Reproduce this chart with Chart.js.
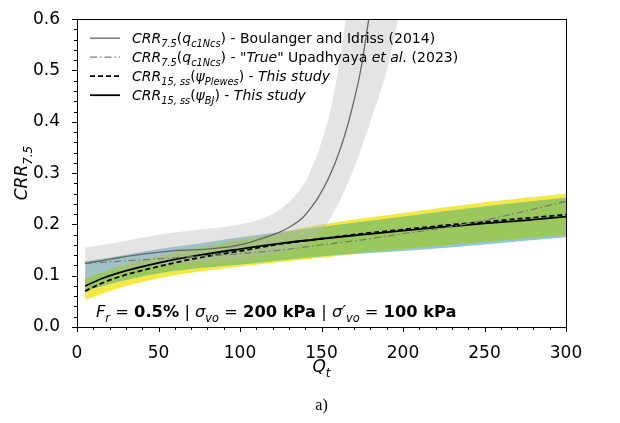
<!DOCTYPE html>
<html>
<head>
<meta charset="utf-8">
<script src="https://cdn.jsdelivr.net/npm/chart.js@4/dist/chart.umd.min.js"></script>
<style>
  html, body { margin: 0; padding: 0; background: #fff; }
  #wrap { width: 620px; height: 423px; position: relative; }
</style>
</head>
<body>
<div id="wrap"><canvas id="c"></canvas></div>
<script>
// Normalised cone resistance values used by the study curves
const qt = [5, 15, 25, 50, 75, 100, 125, 150, 175, 200, 225, 250, 275, 300];
// CRR15,ss from psi (Been & Jefferies) - this study
const crrBJ = [0.080, 0.094, 0.105, 0.125, 0.140, 0.152, 0.163, 0.172, 0.180, 0.188, 0.195, 0.202, 0.208, 0.215];
// CRR15,ss from psi (Plewes) - this study
const crrPlewes = [0.070, 0.085, 0.097, 0.118, 0.135, 0.148, 0.162, 0.172, 0.182, 0.190, 0.198, 0.205, 0.212, 0.219];
// "True" CRR7.5 after Upadhyaya et al. (2023)
const crrUpadhyaya = [0.124, 0.126, 0.128, 0.133, 0.138, 0.143, 0.150, 0.160, 0.170, 0.182, 0.193, 0.208, 0.226, 0.245];

// Boulanger and Idriss (2014) CRR7.5
const qtBI = [5, 20, 40, 60, 80, 95, 105, 115, 125, 130, 135, 139, 144, 149, 154, 159, 164, 169, 174, 179, 182];
const crrBI = [0.124, 0.132, 0.142, 0.149, 0.152, 0.157, 0.164, 0.174, 0.186, 0.194, 0.204, 0.215, 0.234, 0.258, 0.288, 0.325, 0.371, 0.429, 0.500, 0.600, 0.660];

// Uncertainty band around Boulanger and Idriss (2014)
const qtBIBand = [5, 25, 50, 75, 100, 115, 125, 135, 142, 150, 156, 161, 165, 170, 180, 190, 197, 205];
const biBandUpper = [0.155, 0.165, 0.180, 0.190, 0.200, 0.213, 0.230, 0.260, 0.295, 0.360, 0.430, 0.515, 0.600, 0.700, 0.900, 1.100, 1.250, 1.400];
const biBandLower = [0.100, 0.110, 0.120, 0.125, 0.130, 0.138, 0.145, 0.155, 0.166, 0.188, 0.215, 0.245, 0.272, 0.310, 0.400, 0.500, 0.600, 0.720];

// Scatter bands of this study
const qtBand = [5, 25, 50, 75, 100, 150, 200, 250, 300];
const plewesUpper = [0.128, 0.138, 0.152, 0.163, 0.175, 0.195, 0.215, 0.235, 0.252];
const plewesLower = [0.070, 0.088, 0.105, 0.115, 0.122, 0.138, 0.148, 0.161, 0.175];
const bjUpper = [0.095, 0.118, 0.138, 0.155, 0.170, 0.200, 0.222, 0.243, 0.260];
const bjLower = [0.053, 0.075, 0.095, 0.108, 0.118, 0.135, 0.152, 0.166, 0.180];

// Axis ticks
const xTicks = [0, 50, 100, 150, 200, 250, 300];
const yTicks = [0.0, 0.1, 0.2, 0.3, 0.4, 0.5, 0.6];

const FONT = '"DejaVu Sans", sans-serif';

const pts = (xs, ys) => xs.map((x, i) => ({ x: x, y: ys[i] }));
const overlapUpper = qtBand.map((_, i) => Math.min(plewesUpper[i], bjUpper[i]));
const overlapLower = qtBand.map((_, i) => Math.max(plewesLower[i], bjLower[i]));

function edge(data, fill, color) {
  return {
    data: data, fill: fill, backgroundColor: color, borderWidth: 0,
    pointRadius: 0, cubicInterpolationMode: 'monotone'
  };
}
function line(data, color, width, dash) {
  return {
    data: data, borderColor: color, borderWidth: width, borderDash: dash,
    fill: false, pointRadius: 0, cubicInterpolationMode: 'monotone'
  };
}

const datasets = [
  line(pts(qtBI, crrBI), '#666', 1.3, []),
  line(pts(qt, crrUpadhyaya), '#7a7a7a', 1.3, [7, 3, 1.5, 3]),
  line(pts(qt, crrPlewes), '#000', 1.8, [5, 3]),
  line(pts(qt, crrBJ), '#000', 1.8, []),
  edge(pts(qtBIBand, biBandUpper), '+1', 'rgba(185,185,185,0.38)'),
  edge(pts(qtBIBand, biBandLower), false, 'transparent'),
  edge(pts(qtBand, overlapUpper), '+1', 'rgb(155,200,92)'),
  edge(pts(qtBand, overlapLower), false, 'transparent'),
  edge(pts(qtBand, plewesUpper), '+1', 'rgb(145,200,208)'),
  edge(pts(qtBand, plewesLower), false, 'transparent'),
  edge(pts(qtBand, bjUpper), '+1', 'rgb(243,232,70)'),
  edge(pts(qtBand, bjLower), false, 'transparent')
];

// Draw a run of text pieces with italics, bold and sub/superscripts
function richText(ctx, x, y, segs, size) {
  ctx.textBaseline = 'alphabetic';
  ctx.textAlign = 'left';
  for (const s of segs) {
    const sz = (s.sub || s.sup) ? size * 0.7 : size;
    ctx.font = (s.i ? 'italic ' : '') + (s.b ? 'bold ' : '') + sz + 'px ' + FONT;
    const dy = s.sub ? size * 0.28 : (s.sup ? -size * 0.4 : 0);
    ctx.fillText(s.t, x, y + dy);
    x += ctx.measureText(s.t).width;
  }
  return x;
}
function richWidth(ctx, segs, size) {
  let w = 0;
  for (const s of segs) {
    const sz = (s.sub || s.sup) ? size * 0.7 : size;
    ctx.font = (s.i ? 'italic ' : '') + (s.b ? 'bold ' : '') + sz + 'px ' + FONT;
    w += ctx.measureText(s.t).width;
  }
  return w;
}

const crr75 = [{ t: 'CRR', i: 1 }, { t: '7.5', sub: 1, i: 1 }];
const legendRows = [
  { color: '#666', width: 1.3, dash: [],
    segs: crr75.concat([{ t: '(' }, { t: 'q', i: 1 }, { t: 'c1Ncs', sub: 1, i: 1 }, { t: ') - Boulanger and Idriss (2014)' }]) },
  { color: '#7a7a7a', width: 1.3, dash: [7, 3, 1.5, 3],
    segs: crr75.concat([{ t: '(' }, { t: 'q', i: 1 }, { t: 'c1Ncs', sub: 1, i: 1 }, { t: ') - "' }, { t: 'True', i: 1 }, { t: '" Upadhyaya ' }, { t: 'et al.', i: 1 }, { t: ' (2023)' }]) },
  { color: '#000', width: 1.8, dash: [5, 3],
    segs: [{ t: 'CRR', i: 1 }, { t: '15, ss', sub: 1, i: 1 }, { t: '(' }, { t: 'ψ', i: 1 }, { t: 'Plewes', sub: 1, i: 1 }, { t: ') - ' }, { t: 'This study', i: 1 }] },
  { color: '#000', width: 1.8, dash: [],
    segs: [{ t: 'CRR', i: 1 }, { t: '15, ss', sub: 1, i: 1 }, { t: '(' }, { t: 'ψ', i: 1 }, { t: 'BJ', sub: 1, i: 1 }, { t: ') - ' }, { t: 'This study', i: 1 }] }
];

const annotation = [
  { t: 'F', i: 1 }, { t: 'r', sub: 1, i: 1 }, { t: ' = ' }, { t: '0.5%', b: 1 }, { t: ' | ' },
  { t: 'σ', i: 1 }, { t: 'vo', sub: 1, i: 1 }, { t: ' = ' }, { t: '200 kPa', b: 1 }, { t: ' | ' },
  { t: 'σ\u2032', i: 1 }, { t: 'vo', sub: 1, i: 1 }, { t: ' = ' }, { t: '100 kPa', b: 1 }
];

const decor = {
  id: 'decor',
  afterDraw(chart) {
    const ctx = chart.ctx;
    const a = chart.chartArea;
    const xs = chart.scales.x, ys = chart.scales.y;
    ctx.save();
    ctx.strokeStyle = '#000';
    ctx.fillStyle = '#000';
    ctx.lineWidth = 1;
    // frame
    ctx.strokeRect(Math.round(a.left) + 0.5, Math.round(a.top) + 0.5,
      Math.round(a.right - a.left), Math.round(a.bottom - a.top));
    // x ticks (major every 50, minor every 10)
    ctx.beginPath();
    for (let v = 0; v <= 300; v += 10) {
      const px = Math.round(xs.getPixelForValue(v)) + 0.5;
      const len = (v % 50 === 0) ? 5 : 3;
      ctx.moveTo(px, a.bottom); ctx.lineTo(px, a.bottom + len);
    }
    // y ticks (major every 0.1, minor every 0.02)
    for (let k = 0; k <= 30; k++) {
      const py = Math.round(ys.getPixelForValue(k * 0.02)) + 0.5;
      const len = (k % 5 === 0) ? 5 : 3;
      ctx.moveTo(a.left, py); ctx.lineTo(a.left - len, py);
    }
    ctx.stroke();

    // legend
    const lx0 = a.left + 13, lx1 = a.left + 43, tx = a.left + 55;
    legendRows.forEach((r, i) => {
      const by = a.top + 24 + i * 19;
      ctx.save();
      ctx.strokeStyle = r.color; ctx.lineWidth = r.width; ctx.setLineDash(r.dash);
      ctx.beginPath(); ctx.moveTo(lx0, by - 5); ctx.lineTo(lx1, by - 5); ctx.stroke();
      ctx.restore();
      ctx.fillStyle = '#000';
      richText(ctx, tx, by, r.segs, 14);
    });

    // condition annotation
    richText(ctx, a.left + 19, a.bottom - 10, annotation, 16.3);

    // axis titles
    const qSegs = [{ t: 'Q', i: 1 }, { t: 't', sub: 1, i: 1 }];
    const qw = richWidth(ctx, qSegs, 17);
    richText(ctx, (a.left + a.right) / 2 - qw / 2, a.bottom + 45, qSegs, 17);

    const ySegs = [{ t: 'CRR', i: 1 }, { t: '7.5', sub: 1, i: 1 }];
    const yw = richWidth(ctx, ySegs, 17);
    ctx.save();
    ctx.translate(27, (a.top + a.bottom) / 2);
    ctx.rotate(-Math.PI / 2);
    richText(ctx, -yw / 2, 0, ySegs, 17);
    ctx.restore();

    // panel label
    ctx.font = '16px "Liberation Serif", serif';
    ctx.textAlign = 'center';
    ctx.textBaseline = 'alphabetic';
    ctx.fillText('a)', (a.left + a.right) / 2, 410);
    ctx.restore();
  }
};

new Chart(document.getElementById('c'), {
  type: 'line',
  data: { datasets: datasets },
  options: {
    responsive: true,
    maintainAspectRatio: false,
    devicePixelRatio: 1,
    animation: false,
    events: [],
    layout: { padding: { left: 0, right: 54, top: 14, bottom: 0 } },
    plugins: {
      legend: { display: false },
      tooltip: { enabled: false },
      filler: { drawTime: 'beforeDatasetsDraw', propagate: false }
    },
    scales: {
      x: {
        type: 'linear', min: 0, max: 300,
        grid: { display: false }, border: { display: false },
        afterBuildTicks: s => { s.ticks = xTicks.map(v => ({ value: v })); },
        afterFit: s => { s.height = 96; },
        ticks: { padding: 8, color: '#000', maxRotation: 0,
          font: { family: FONT, size: 17 }, callback: v => String(v) }
      },
      y: {
        type: 'linear', min: 0, max: 0.6,
        grid: { display: false }, border: { display: false },
        afterBuildTicks: s => { s.ticks = yTicks.map(v => ({ value: v })); },
        afterFit: s => { s.width = 77; },
        ticks: { padding: 9, color: '#000',
          font: { family: FONT, size: 17 }, callback: v => Number(v).toFixed(1) }
      }
    }
  },
  plugins: [decor]
});
</script>
</body>
</html>
